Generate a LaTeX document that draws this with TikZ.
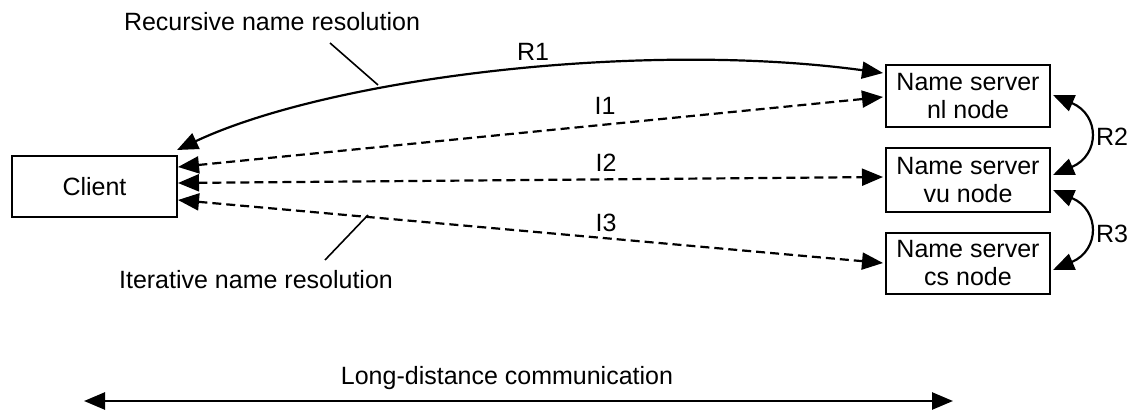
\documentclass[tikz,border=0pt]{standalone}
\usepackage{fontspec}
\setmainfont{Liberation Sans}
\usetikzlibrary{arrows.meta,calc}
\tikzset{
  box/.style={draw, line width=2pt, minimum width=164pt, inner sep=0pt, align=center},
  lbl/.style={inner sep=0pt},
  conn/.style={line width=2.2pt, {Triangle[length=21pt,width=17pt]}-{Triangle[length=21pt,width=17pt]}},
  dconn/.style={conn, dash pattern=on 9pt off 5pt},
  leader/.style={line width=1.6pt},
}
\begin{document}
\begin{tikzpicture}[x=1pt,y=-1pt,font=\fontsize{25}{28}\selectfont]
\useasboundingbox (0,0) rectangle (1143,412);
% nodes
\node[box, minimum width=165pt, minimum height=61pt] (client) at (94.5,186.5) {Client};
\node[box, minimum height=62pt] (nl) at (968,96) {Name server\\nl node};
\node[box, minimum height=64pt] (vu) at (968,180) {Name server\\vu node};
\node[box, minimum height=61pt] (cs) at (968,263.5) {Name server\\cs node};
% labels
\node[lbl] (rec) at (272,22) {Recursive name resolution};
\node[lbl] (ite) at (256,280) {Iterative name resolution};
\node[lbl] (r1) at (533,52) {R1};
\node[lbl] (i1) at (605,106) {I1};
\node[lbl] (i2) at (606,163) {I2};
\node[lbl] (i3) at (606,223) {I3};
\node[lbl] (r2) at (1112,137) {R2};
\node[lbl] (r3) at (1112,234) {R3};
\node[lbl] (ld) at (507,378) {Long-distance communication};
% connector ends
\coordinate (r1a) at ($(client.north east)+(-1,-5)$);
\coordinate (r1b) at ($(nl.west)+(-2,-23)$);
\coordinate (recl) at (378,85);
\coordinate (itel) at (368,215);
\coordinate (lda) at (84,401);
\coordinate (ldb) at (953,401);
% R1
\draw[conn] (r1a) .. controls (330,78) and (640,40) .. (r1b);
% iterative
\draw[dconn] ($(client.east)+(0,-19.5)$) -- ($(nl.west)+(-2,1)$);
\draw[dconn] ($(client.east)+(0,-3.5)$) -- ($(vu.west)+(-2,-3)$);
\draw[dconn] ($(client.east)+(0,13.5)$) -- ($(cs.west)+(-2,-0.5)$);
% R2 R3
\draw[conn] ($(nl.east)+(2,-1)$) .. controls (1100,115) and (1100,155) .. ($(vu.east)+(2,-5)$);
\draw[conn] ($(vu.east)+(2,10)$) .. controls (1100,210) and (1100,250) .. ($(cs.east)+(2,6.5)$);
% leaders
\draw[leader] (330,43) -- (recl);
\draw[leader] (325,260) -- (itel);
% long distance
\draw[conn, line width=2.6pt] (lda) -- (ldb);
\end{tikzpicture}
\end{document}
